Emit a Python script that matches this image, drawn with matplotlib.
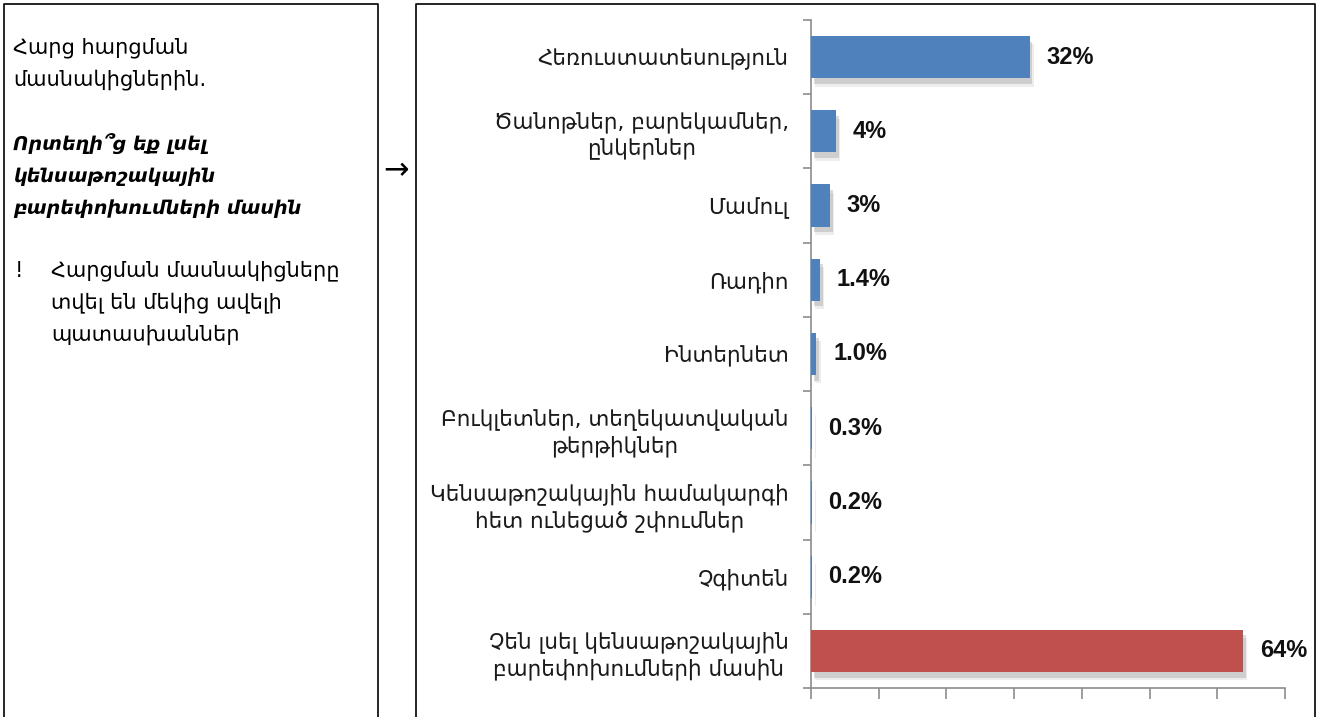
import matplotlib
matplotlib.use("Agg")
import matplotlib.pyplot as plt
import matplotlib.patheffects as pe
from matplotlib.lines import Line2D
import numpy as np

# data
categories = [
    "Հեռուստատեսություն",
    "Ծանոթներ, բարեկամներ,\nընկերներ",
    "Մամուլ",
    "Ռադիո",
    "Ինտերնետ",
    "Բուկլետներ, տեղեկատվական\nթերթիկներ",
    "Կենսաթոշակային համակարգի\nհետ ունեցած շփումներ",
    "Չգիտեն",
    "Չեն լսել կենսաթոշակային\nբարեփոխումների մասին",
]
values = [32.3, 3.7, 2.8, 1.3, 0.8, 0.1, 0.1, 0.1, 63.8]
value_labels = ["32%", "4%", "3%", "1.4%", "1.0%", "0.3%", "0.2%", "0.2%", "64%"]
bar_colors = ["#4F81BD"] * 8 + ["#C0504D"]
x_ticks = [0, 10, 20, 30, 40, 50, 60, 70]

plt.rcParams['font.family'] = ['DejaVu Sans']

fig = plt.figure(figsize=(13.2, 7.17), dpi=100)
W, H = 1320, 717

def px(x, y):
    return x / W, 1 - y / H

# panel frames (open at the bottom)
for x0, x1 in [(4, 378), (416, 1315)]:
    xs = [x0, x0, x1, x1]
    ys = [720, 4, 4, 720]
    fig.add_artist(Line2D([x / W for x in xs], [1 - y / H for y in ys],
                          color="black", lw=1.2, transform=fig.transFigure))

# left panel text
left_lines = [
    (13, 48, "Հարց հարցման", "normal", "normal", 15),
    (13, 80, "մասնակիցներին.", "normal", "normal", 15),
    (13, 144, "Որտեղի՞ց եք լսել", "bold", "italic", 13.8),
    (13, 176, "կենսաթոշակային", "bold", "italic", 13.8),
    (13, 208, "բարեփոխումների մասին", "bold", "italic", 13.8),
    (15, 271, "!", "normal", "normal", 15),
    (51, 271, "Հարցման մասնակիցները", "normal", "normal", 15),
    (51, 303, "տվել են մեկից ավելի", "normal", "normal", 15),
    (51, 335, "պատասխաններ", "normal", "normal", 15),
]
for x, y, s, w, st, fs in left_lines:
    fx, fy = px(x, y)
    fig.text(fx, fy, s, fontsize=fs, fontweight=w, fontstyle=st,
             ha="left", va="center", color="black")

fx, fy = px(396, 171)
fig.text(fx, fy, "→", fontsize=22, ha="center", va="center")

# chart
ax = fig.add_axes([811 / W, 1 - 688 / H, (1285 - 811) / W, (688 - 20) / H])
y = np.arange(len(categories))
bars = ax.barh(y, values, height=0.57, color=bar_colors, zorder=3)
for b in bars:
    b.set_path_effects([
        pe.SimplePatchShadow(offset=(3, -6), shadow_rgbFace="#888888", alpha=0.15),
        pe.SimplePatchShadow(offset=(2, -4), shadow_rgbFace="#888888", alpha=0.3),
        pe.Normal()])

for yi, v, lab in zip(y, values, value_labels):
    ax.annotate(lab, (v, yi), xytext=(12, 0), textcoords="offset points",
                ha="left", va="center", fontsize=17, fontweight="bold",
                family="Liberation Sans", color="#111111")

ax.set_xlim(0, 70)
ax.set_ylim(len(categories) - 0.5, -0.5)
ax.set_xticks(x_ticks)
ax.set_xticklabels([])
ax.tick_params(axis="x", length=8, width=1.2, color="#8c8c8c", direction="out")

ax.set_yticks(y)
ax.set_yticklabels(categories, fontsize=15.5, color="#1a1a1a", linespacing=1.3)
ax.set_yticks(np.arange(-0.5, len(categories)), minor=True)
ax.tick_params(axis="y", which="major", length=0, pad=16)
ax.tick_params(axis="y", which="minor", length=6, width=1.2, color="#8c8c8c")
for t in ax.get_yticklabels():
    t.set_multialignment("center")

for side in ["top", "right"]:
    ax.spines[side].set_visible(False)
for side in ["left", "bottom"]:
    ax.spines[side].set_color("#8c8c8c")
    ax.spines[side].set_linewidth(1.2)
ax.patch.set_alpha(0)

fig.savefig("out.png", dpi=100)
